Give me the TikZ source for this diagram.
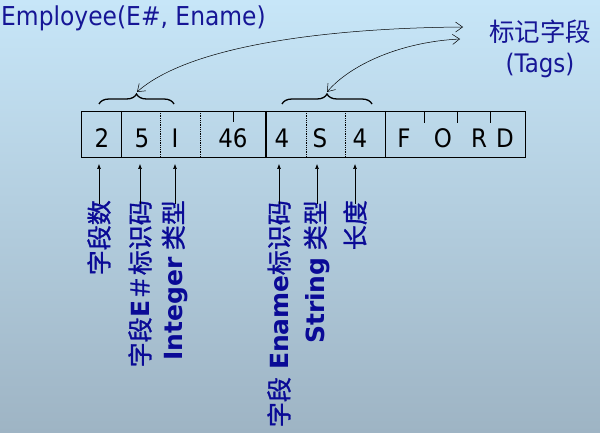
\documentclass[tikz,border=0pt]{standalone}
\usepackage{fontspec}
\setmainfont{DejaVu Sans}[FakeStretch=0.9]
\newfontfamily\lab{DejaVu Sans}
\newfontfamily\cjk{Noto Sans CJK SC}
\newfontfamily\cjkb{Noto Sans CJK SC}[FakeBold=1.2]
\usetikzlibrary{decorations.pathreplacing,arrows.meta}
\definecolor{bgtop}{RGB}{199,230,248}
\definecolor{bgbot}{RGB}{158,180,196}
\definecolor{ttl}{RGB}{22,22,150}
\definecolor{lbl}{RGB}{10,10,150}
\tikzset{
  cell/.style={inner sep=0pt, font=\fontsize{25.5}{28}\selectfont, text=black},
  sepsolid/.style={line width=0.9pt},
  septhick/.style={line width=1.6pt},
  sepdot/.style={line width=0.8pt, densely dotted},
  lab/.style={rotate=90, anchor=east, inner sep=0pt, text=lbl, font=\fontsize{25}{28}\selectfont},
  uparrow/.style={line width=0.6pt, -{Latex[length=5pt,width=4pt]}},
  tagarrow/.style={line width=0.5pt, {Straight Barb[length=7pt,width=10pt]}-{Straight Barb[length=7pt,width=10pt]}},
  bracestyle/.style={line width=1.3pt, decorate, decoration={brace, amplitude=10pt}},
}
\begin{document}
\begin{tikzpicture}[x=1pt,y=-1pt]
\useasboundingbox (0,0) rectangle (600,433);
\shade[top color=bgtop, bottom color=bgbot] (0,0) rectangle (600,433);

% title
\node[anchor=base west, inner sep=0pt, text=ttl, font=\fontsize{26}{28}\selectfont] (title) at (1,26) {Employee(E\#, Ename)};

% tags
\node[align=center, inner sep=0pt, text=ttl, font=\fontsize{25.5}{31}\selectfont] (tags) at (540,49) {{\cjk 标记字段}\\(Tags)};

% record
\draw[line width=0.6pt] (81,111) rectangle (525,157);
\draw[sepsolid] (121,111) -- (121,157);
\draw[sepdot] (160,111) -- (160,157);
\draw[sepdot] (200,111) -- (200,157);
\draw[septhick] (266,111) -- (266,157);
\draw[sepdot] (306,111) -- (306,157);
\draw[sepdot] (345,111) -- (345,157);
\draw[line width=0.7pt] (385,111) -- (385,157);
\draw[line width=0.6pt] (233,111) -- (233,122);
\draw[line width=0.6pt] (424,111) -- (424,123);
\draw[line width=0.6pt] (457,111) -- (457,123);
\draw[line width=0.6pt] (490,111) -- (490,123);

\node[cell] (c1) at (102,138) {2};
\node[cell] (c2) at (142,138) {5};
\node[cell] (c3) at (175,138) {I};
\node[cell] (c4) at (233,138) {46};
\node[cell] (c5) at (282,138) {4};
\node[cell] (c6) at (320,138) {S};
\node[cell] (c7) at (360,138) {4};
\node[cell] (c8) at (404,138) {F};
\node[cell] (c9) at (443,138) {O};
\node[cell] (c10) at (479,138) {R};
\node[cell] (c11) at (505,138) {D};

% braces
\draw[bracestyle] (99,104) -- (174,104);
\draw[bracestyle] (282,104) -- (372,104);
\coordinate (b1) at (137,92);
\coordinate (b2) at (327,92);
\coordinate (tg1) at (463,27);
\coordinate (tg2) at (460,39);
\draw[tagarrow] (tg1) .. controls (330,28) and (190,45) .. (b1);
\draw[tagarrow] (tg2) .. controls (400,42) and (350,65) .. (b2);

% labels
\node[lab] (l1) at (99,200) {\cjkb 字段数};
\node[lab] (l2) at (140,200) {{\cjkb 字段}{\lab\bfseries E}{\cjkb ＃标识码}};
\node[lab] (l3) at (175,200) {{\lab\bfseries Integer} {\cjkb 类型}};
\node[lab] (l4) at (279,200) {{\cjkb 字段} {\lab\bfseries Ename}{\cjkb 标识码}};
\node[lab] (l5) at (317,200) {{\lab\bfseries String} {\cjkb 类型}};
\node[lab] (l6) at (355,200) {\cjkb 长度};

\coordinate (t1) at (99,164);
\coordinate (t2) at (140,164);
\coordinate (t3) at (175,164);
\coordinate (t4) at (279,164);
\coordinate (t5) at (317,164);
\coordinate (t6) at (355,164);
\draw[uparrow] ([yshift=-4pt]l1.east) -- (t1);
\draw[uparrow] ([yshift=-4pt]l2.east) -- (t2);
\draw[uparrow] ([yshift=-4pt]l3.east) -- (t3);
\draw[uparrow] ([yshift=-4pt]l4.east) -- (t4);
\draw[uparrow] ([yshift=-4pt]l5.east) -- (t5);
\draw[uparrow] ([yshift=-4pt]l6.east) -- (t6);
\end{tikzpicture}
\end{document}
